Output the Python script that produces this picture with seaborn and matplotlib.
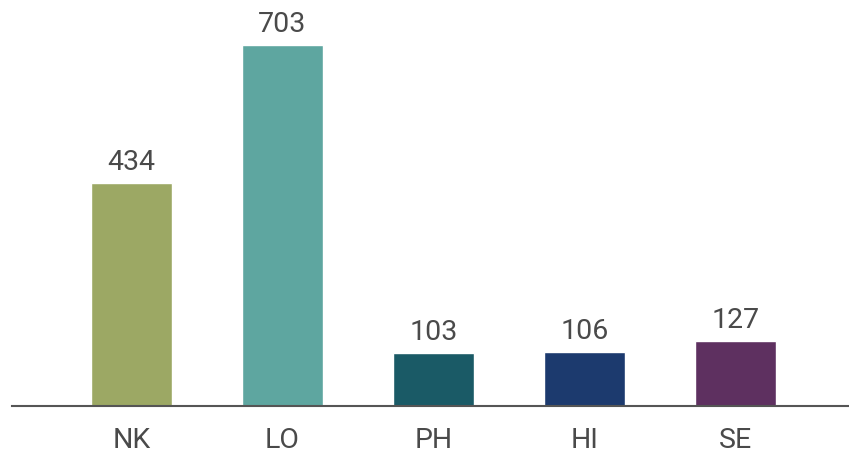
import matplotlib
matplotlib.use('Agg')
import matplotlib.pyplot as plt
import seaborn as sns
import pandas as pd

categories = ['NK', 'LO', 'PH', 'HI', 'SE']
values = [434, 703, 103, 106, 127]
colors = ['#9ca864', '#5ea6a0', '#1a5a66', '#1c3a6e', '#5e3060']

sns.set_style('white')
plt.rcParams['font.family'] = ['Roboto', 'DejaVu Sans']

df = pd.DataFrame({'cat': categories, 'val': values})

fig = plt.figure(figsize=(8.49, 4.54), dpi=100)
ax = fig.add_axes([12 / 849, 48 / 454, 837 / 849, 406 / 454])
sns.barplot(data=df, x='cat', y='val', hue='cat', palette=colors, width=0.536,
            legend=False, ax=ax, saturation=1)

# value labels above the bars
for i, v in enumerate(values):
    ax.text(i, v + 13, str(v), ha='center', va='bottom', fontsize=20.5, color='#4a4a4a')

ax.set_xlim(-0.79, 4.75)
ax.set_ylim(0, 790)
ax.set_yticks([])
ax.set_xlabel('')
ax.set_ylabel('')
for s in ['top', 'right', 'left']:
    ax.spines[s].set_visible(False)
ax.spines['bottom'].set_color('#555555')
ax.spines['bottom'].set_linewidth(1.5)
ax.tick_params(axis='x', length=0, pad=15, labelsize=20.5, labelcolor='#4a4a4a')

fig.savefig('out.png', dpi=100)
